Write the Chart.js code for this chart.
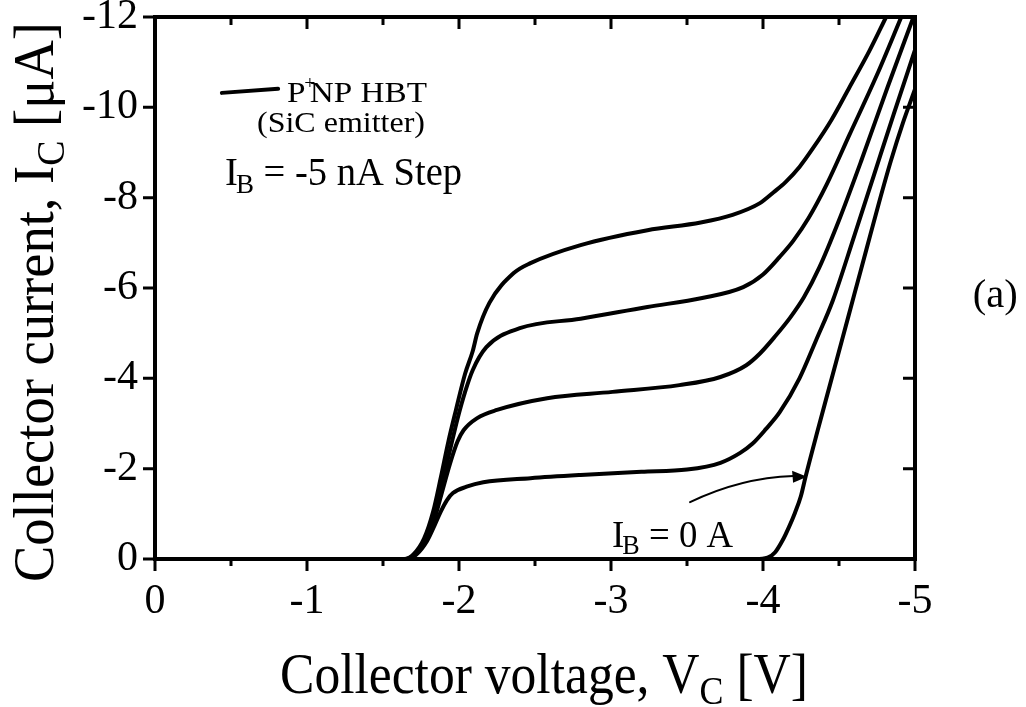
<!DOCTYPE html>
<html><head><meta charset="utf-8">
<script src="https://cdn.jsdelivr.net/npm/chart.js@4/dist/chart.umd.min.js"></script>
<style>html,body{margin:0;padding:0;background:#fff;}canvas{display:block;}</style>
</head><body>
<canvas id="c" width="1026" height="707"></canvas>
<script>
// ---- data ----
const xTickLabels = ['0', '-1', '-2', '-3', '-4', '-5'];
const yTickLabels = ['0', '-2', '-4', '-6', '-8', '-10', '-12'];
const seriesNames = ['IB = 0 A', 'IB = -5 nA', 'IB = -10 nA', 'IB = -15 nA', 'IB = -20 nA'];

const vc_ib0 = [0, -3.95, -4.03, -4.08, -4.13, -4.17, -4.21, -4.25, -4.28, -4.36, -4.44, -4.52, -4.6, -4.68, -4.76, -4.84, -4.92, -5.0];
const ic_ib0 = [0, 0, -0.03, -0.15, -0.42, -0.7, -1.02, -1.4, -1.82, -2.85, -3.85, -4.85, -5.85, -6.85, -7.85, -8.8, -9.65, -10.4];

const vc_ib5 = [0, -1.66, -1.72, -1.79, -1.84, -1.88, -1.92, -1.96, -2.05, -2.16, -2.47, -2.8, -3.2, -3.5, -3.72, -3.85, -3.93, -4.02, -4.11, -4.24, -4.35, -4.46, -4.6, -4.73, -4.86, -5.0];
const ic_ib5 = [0, 0, -0.1, -0.4, -0.75, -1.05, -1.3, -1.46, -1.6, -1.7, -1.79, -1.86, -1.93, -1.98, -2.13, -2.35, -2.55, -2.88, -3.25, -4.0, -4.85, -5.73, -7.15, -8.5, -9.85, -11.27];

const vc_ib10 = [0, -1.65, -1.71, -1.78, -1.84, -1.89, -1.94, -1.99, -2.03, -2.12, -2.25, -2.58, -3.01, -3.45, -3.72, -3.89, -3.98, -4.08, -4.18, -4.27, -4.37, -4.5, -4.65, -4.82, -4.99];
const ic_ib10 = [0, 0, -0.1, -0.4, -0.9, -1.5, -2.1, -2.6, -2.85, -3.12, -3.3, -3.56, -3.7, -3.85, -4.03, -4.29, -4.55, -4.93, -5.35, -5.8, -6.45, -7.5, -8.85, -10.45, -12];

const vc_ib15 = [0, -1.65, -1.71, -1.78, -1.84, -1.89, -1.94, -1.99, -2.04, -2.09, -2.18, -2.4, -2.8, -3.24, -3.6, -3.87, -4.0, -4.11, -4.2, -4.3, -4.42, -4.57, -4.75, -4.91];
const ic_ib15 = [0, 0, -0.1, -0.45, -1.0, -1.7, -2.4, -3.1, -3.7, -4.18, -4.69, -5.11, -5.32, -5.58, -5.78, -6.02, -6.3, -6.69, -7.05, -7.55, -8.3, -9.4, -10.72, -12];

const vc_ib20 = [0, -1.64, -1.7, -1.77, -1.83, -1.88, -1.93, -1.98, -2.04, -2.09, -2.12, -2.2, -2.36, -2.47, -2.8, -3.24, -3.59, -3.8, -3.98, -4.07, -4.15, -4.24, -4.33, -4.45, -4.57, -4.7, -4.81];
const ic_ib20 = [0, 0, -0.1, -0.45, -1.05, -1.8, -2.6, -3.3, -4.1, -4.6, -5.0, -5.67, -6.33, -6.55, -6.95, -7.28, -7.45, -7.62, -7.88, -8.12, -8.35, -8.68, -9.1, -9.72, -10.45, -11.25, -12];

const seriesX = [vc_ib0, vc_ib5, vc_ib10, vc_ib15, vc_ib20];
const seriesY = [ic_ib0, ic_ib5, ic_ib10, ic_ib15, ic_ib20];

// ---- chart ----
const SERIF = "'Liberation Serif','Times New Roman',serif";

function drawRun(ctx, segs, x, y, size, targetW, rotate) {
  const fontFor = s => (s.sub || s.sup ? Math.round(size * (s.scale || 0.7)) : size) + 'px ' + SERIF;
  ctx.save();
  ctx.translate(x, y);
  if (rotate) ctx.rotate(-Math.PI / 2);
  let total = 0;
  for (const s of segs) { ctx.font = fontFor(s); total += (s.noAdvance ? 0 : ctx.measureText(s.t).width) + (s.dx || 0); }
  const sx = targetW ? targetW / total : 1;
  ctx.scale(sx, 1);
  ctx.fillStyle = '#000';
  ctx.textBaseline = 'alphabetic';
  ctx.textAlign = 'left';
  let cx = 0;
  for (const s of segs) {
    ctx.font = fontFor(s);
    const dy = s.sub ? size * 0.2 : (s.sup ? -size * 0.42 : 0);
    ctx.fillText(s.t, cx + (s.dx || 0) + (s.ox || 0), dy);
    cx += (s.noAdvance ? 0 : ctx.measureText(s.t).width) + (s.dx || 0);
  }
  ctx.restore();
}

const decor = {
  id: 'decor',
  afterDraw(chart) {
    const ctx = chart.ctx, a = chart.chartArea;
    const xs = chart.scales.x, ys = chart.scales.y;
    const X = v => xs.getPixelForValue(v), Y = v => ys.getPixelForValue(v);
    ctx.save();
    ctx.strokeStyle = '#000';
    ctx.lineCap = 'butt';
    // ticks
    ctx.lineWidth = 3;
    ctx.beginPath();
    for (let i = 0; i <= 10; i++) {
      const v = -i * 0.5, px = X(v), major = i % 2 === 0;
      ctx.moveTo(px, a.bottom); ctx.lineTo(px, a.bottom + (major ? 12 : 7));
      ctx.moveTo(px, a.top); ctx.lineTo(px, a.top + (major ? 12 : 8));
    }
    for (let i = 0; i <= 6; i++) {
      const py = Y(-i * 2);
      ctx.moveTo(a.left - 12, py); ctx.lineTo(a.left, py);
      ctx.moveTo(a.right - 12, py); ctx.lineTo(a.right, py);
    }
    ctx.stroke();
    // frame
    ctx.lineWidth = 4;
    ctx.strokeRect(a.left, a.top, a.right - a.left, a.bottom - a.top);

    // legend sample line
    ctx.lineWidth = 4;
    ctx.lineCap = 'round';
    ctx.beginPath();
    ctx.moveTo(X(-0.44), Y(-10.32));
    ctx.lineTo(X(-0.81), Y(-10.41));
    ctx.stroke();

    // arrow
    ctx.lineWidth = 2;
    ctx.beginPath();
    ctx.moveTo(X(-3.52), Y(-1.26));
    ctx.quadraticCurveTo(X(-3.85), Y(-1.8), X(-4.2), Y(-1.84));
    ctx.stroke();
    ctx.fillStyle = '#000';
    ctx.beginPath();
    const tx = X(-4.29), ty = Y(-1.82);
    ctx.moveTo(tx, ty);
    ctx.lineTo(tx - 15, ty - 6);
    ctx.lineTo(tx - 14, ty + 6);
    ctx.closePath();
    ctx.fill();
    ctx.restore();

    // annotation texts
    drawRun(ctx, [{t: 'P'}, {t: '+', sup: true, scale: 0.6, ox: -1, noAdvance: true}, {t: 'NP HBT', dx: 4}], X(-0.868), Y(-10.12), 30, 140);
    drawRun(ctx, [{t: '(SiC emitter)'}], X(-0.671), Y(-9.45), 30, 168);
    drawRun(ctx, [{t: 'I'}, {t: 'B', sub: true, dx: -2}, {t: ' = -5 nA Step'}], X(-0.461), Y(-8.28), 40, 237);
    drawRun(ctx, [{t: 'I'}, {t: 'B', sub: true, dx: -2}, {t: ' = 0 A'}], X(-3.007), Y(-0.27), 38, 121);
    drawRun(ctx, [{t: '(a)'}], X(-5.38), Y(-5.58), 40, 45);

    // axis titles
    drawRun(ctx, [{t: 'Collector voltage, V'}, {t: 'C', sub: true}, {t: ' [V]'}], 280, 693, 56, 528);
    drawRun(ctx, [{t: 'Collector current, I'}, {t: 'C', sub: true}, {t: ' [\u03bcA]'}], 53, 582, 56, 560, true);
  }
};

const datasets = seriesNames.map((name, k) => ({
  label: name,
  data: seriesX[k].map((v, i) => ({x: v, y: seriesY[k][i]})),
  borderColor: '#000',
  borderWidth: 4,
  pointRadius: 0,
  fill: false,
  cubicInterpolationMode: 'monotone',
  borderCapStyle: 'round',
  borderJoinStyle: 'round'
}));

new Chart(document.getElementById('c'), {
  type: 'line',
  data: {datasets},
  options: {
    responsive: false,
    animation: false,
    devicePixelRatio: 1,
    layout: {padding: {left: 0, right: 111, top: 17, bottom: 0}},
    plugins: {legend: {display: false}, tooltip: {enabled: false}},
    scales: {
      x: {
        type: 'linear', min: -5, max: 0, reverse: true,
        afterFit(s) { s.height = 148; s.paddingLeft = 0; s.paddingRight = 0; },
        grid: {display: false, drawTicks: false},
        border: {display: false},
        ticks: {
          stepSize: 1, maxRotation: 0, autoSkip: false, color: '#000', padding: 22,
          font: {family: SERIF, size: 42, lineHeight: 1},
          callback: v => xTickLabels[Math.round(-v)]
        }
      },
      y: {
        type: 'linear', min: -12, max: 0, reverse: true,
        afterFit(s) { s.width = 155; s.paddingTop = 0; s.paddingBottom = 0; },
        grid: {display: false, drawTicks: false},
        border: {display: false},
        ticks: {
          stepSize: 2, autoSkip: false, color: '#000', padding: 17,
          font: {family: SERIF, size: 42, lineHeight: 1},
          callback: v => yTickLabels[Math.round(-v / 2)]
        }
      }
    }
  },
  plugins: [decor]
});
</script>
</body></html>
